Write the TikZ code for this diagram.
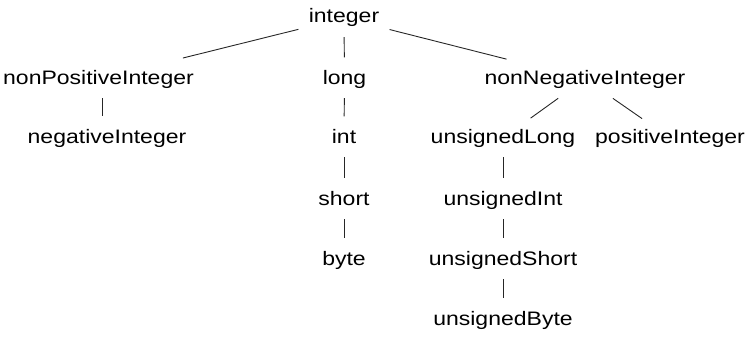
\documentclass[tikz,border=0pt]{standalone}
\usepackage{fontspec}
\setmainfont{Liberation Sans}[FakeStretch=1.18]
\begin{document}
\begin{tikzpicture}[x=1pt,y=1pt,
  lbl/.style={font=\fontsize{19.5}{23}\selectfont, inner sep=0pt, text height=14pt, text depth=4pt, anchor=base},
  edge/.style={draw=black!85, line width=0.9pt},
  vedge/.style={edge, shorten <=10pt, shorten >=12.5pt}]
\useasboundingbox (0,0) rectangle (749,-337);
\node[lbl] (integer) at (344,-23) {integer};
\node[lbl] (npi) at (98.5,-84) {nonPositiveInteger};
\node[lbl] (long) at (344.5,-84) {long};
\node[lbl] (nni) at (585,-84) {nonNegativeInteger};
\node[lbl] (neg) at (107,-143) {negativeInteger};
\node[lbl] (int) at (344,-143) {int};
\node[lbl] (ulong) at (503,-143) {unsignedLong};
\node[lbl] (pos) at (670,-143) {positiveInteger};
\node[lbl] (short) at (344,-205) {short};
\node[lbl] (uint) at (503,-205) {unsignedInt};
\node[lbl] (byte) at (344,-265) {byte};
\node[lbl] (ushort) at (503,-265) {unsignedShort};
\node[lbl] (ubyte) at (503,-325) {unsignedByte};

\draw[edge, shorten <=47pt, shorten >=87pt] (integer.center) -- (npi.center);
\draw[edge, shorten <=47pt, shorten >=81pt] (integer.center) -- (nni.center);
\draw[vedge] (integer.south) -- (long.north);
\path (npi.south) -- (neg.north) coordinate[midway] (m1);
\draw[vedge] (m1 |- npi.south) -- (m1 |- neg.north);
\draw[vedge] (long.south) -- (int.north);
\draw[vedge] (int.south) -- (short.north);
\draw[vedge] (short.south) -- (byte.north);
\draw[edge, shorten <=33pt, shorten >=34pt] (nni.center) -- (ulong.center);
\draw[edge, shorten <=34pt, shorten >=34pt] (nni.center) -- (pos.center);
\draw[vedge] (ulong.south) -- (uint.north);
\draw[vedge] (uint.south) -- (ushort.north);
\draw[vedge] (ushort.south) -- (ubyte.north);
\end{tikzpicture}
\end{document}
